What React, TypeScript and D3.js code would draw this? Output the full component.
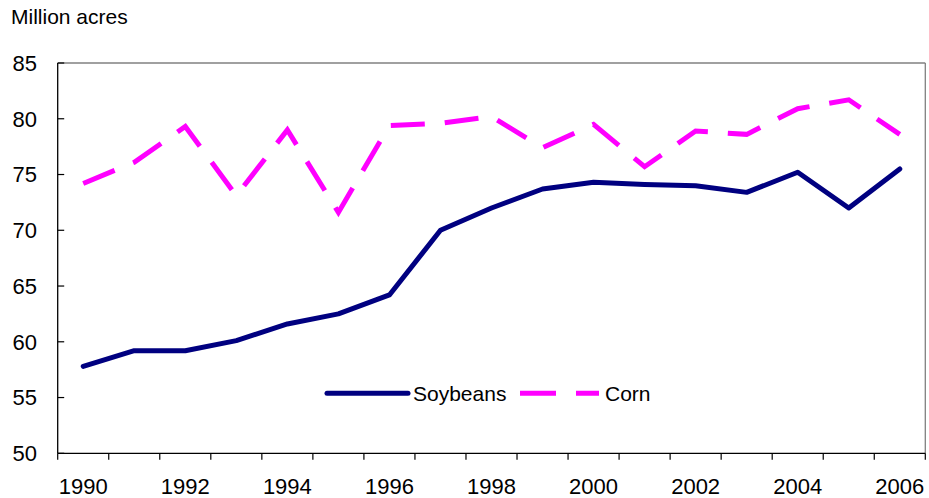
import React from "react";
import * as d3 from "d3";

const years: string[] = ["1990","1991","1992","1993","1994","1995","1996","1997","1998","1999","2000","2001","2002","2003","2004","2005","2006"];
const soybeans: number[] = [57.8, 59.2, 59.2, 60.1, 61.6, 62.5, 64.2, 70.0, 72.0, 73.7, 74.3, 74.1, 74.0, 73.4, 75.2, 72.0, 75.5];
const corn: number[] = [74.2, 76.1, 79.3, 73.1, 79.0, 71.6, 79.4, 79.6, 80.2, 77.4, 79.5, 75.7, 78.9, 78.6, 80.9, 81.7, 78.6];
const yTicks: number[] = [50, 55, 60, 65, 70, 75, 80, 85];
const xLabels: string[] = ["1990","1992","1994","1996","1998","2000","2002","2004","2006"];
const yTitle = "Million acres";

const W = 929, H = 498;
const L = 57.7, R = 925.3, T = 63, B = 453.3;
const FONT = "'Liberation Sans', Arial, sans-serif";
const NAVY = "#000080";
const PINK = "#FF00FF";

export default function App() {
  const x = d3.scaleBand<string>().domain(years).range([L, R]).padding(0);
  const y = d3.scaleLinear().domain([50, 85]).range([B, T]);
  const cx = (d: string) => (x(d) as number) + x.bandwidth() / 2;
  const line = d3.line<number>().x((_, i) => cx(years[i])).y((v) => y(v));
  const boundaries = d3.range(years.length + 1).map((i) => L + i * x.bandwidth());

  return (
    <div style={{ position: "absolute", left: 0, top: 0 }}>
      <svg width={W} height={H} style={{ display: "block", background: "#fff" }}>
        <rect x={0} y={0} width={W} height={H} fill="#fff" />
        <text x={11} y={24} fontFamily={FONT} fontSize={21} fill="#000">{yTitle}</text>
        {/* frame */}
        <line x1={L} x2={R} y1={T} y2={T} stroke="#808080" strokeWidth={1.3} />
        <line x1={R} x2={R} y1={T} y2={B} stroke="#808080" strokeWidth={1.3} />
        <line x1={L} x2={L} y1={T} y2={B} stroke="#000" strokeWidth={1.3} />
        <line x1={L} x2={R} y1={B} y2={B} stroke="#000" strokeWidth={1.3} />
        {yTicks.map((t) => (
          <g key={"y" + t}>
            <line x1={L} x2={L + 6.5} y1={y(t)} y2={y(t)} stroke="#000" strokeWidth={1.2} />
            <text x={37} y={y(t) + 7.8} textAnchor="end" fontFamily={FONT} fontSize={22} fill="#000">{t}</text>
          </g>
        ))}
        {boundaries.map((bx, i) => (
          <line key={"xt" + i} x1={bx} x2={bx} y1={B} y2={B + 6.5} stroke="#000" strokeWidth={1.2} />
        ))}
        {xLabels.map((lab) => (
          <text key={lab} x={cx(lab)} y={493.5} textAnchor="middle" fontFamily={FONT} fontSize={22} fill="#000">{lab}</text>
        ))}
        <path d={line(corn) || ""} fill="none" stroke={PINK} strokeWidth={5} strokeDasharray="34,20" strokeLinejoin="miter" />
        <path d={line(soybeans) || ""} fill="none" stroke={NAVY} strokeWidth={5} strokeLinejoin="round" strokeLinecap="round" />
        {/* legend */}
        <line x1={327} x2={408} y1={393.3} y2={393.3} stroke={NAVY} strokeWidth={5} strokeLinecap="round" />
        <text x={413} y={401} fontFamily={FONT} fontSize={21} fill="#000">Soybeans</text>
        <line x1={520} x2={599} y1={393.3} y2={393.3} stroke={PINK} strokeWidth={5} strokeDasharray="36,20" />
        <text x={605} y={401} fontFamily={FONT} fontSize={21} fill="#000">Corn</text>
      </svg>
    </div>
  );
}
